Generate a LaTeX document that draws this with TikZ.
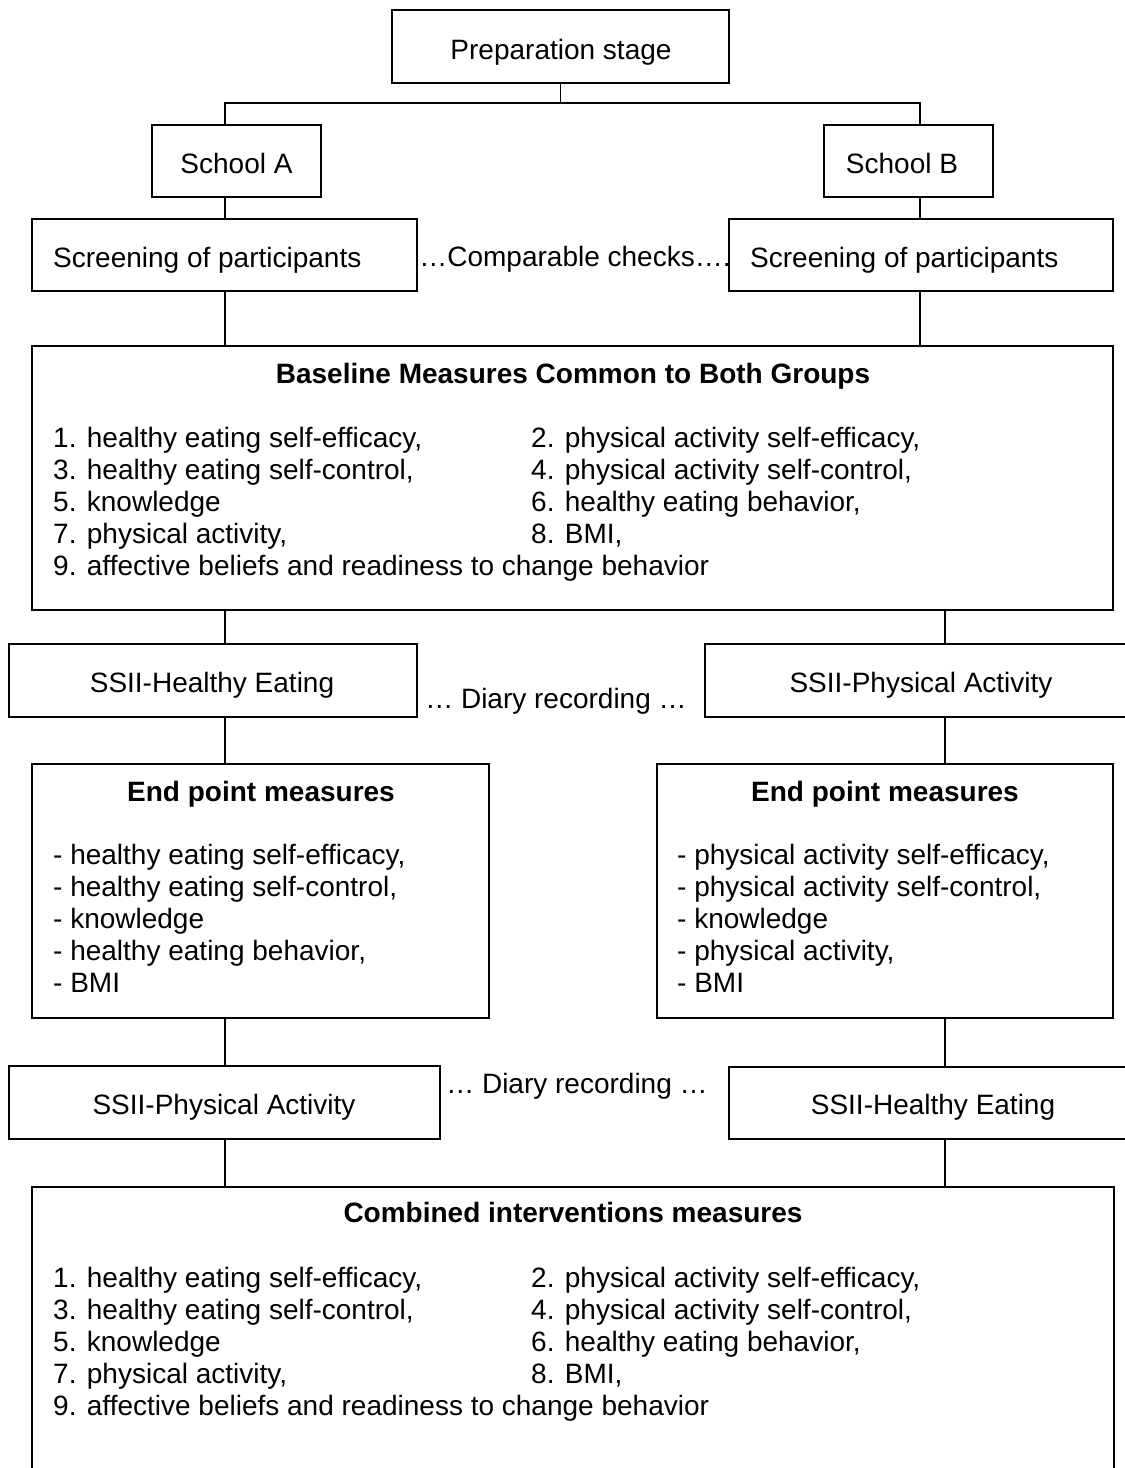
\documentclass[tikz,border=0pt]{standalone}
\usepackage{fontspec}
\setmainfont{Liberation Sans}
\begin{document}
\begin{tikzpicture}[x=1pt,y=-1pt,
  box/.style={draw, line width=1.5pt, inner sep=0pt},
  conn/.style={line width=1.3pt},
  txt/.style={inner sep=0pt, font=\fontsize{28}{32}\selectfont},
  ttl/.style={inner sep=0pt, font=\fontsize{28}{32}\selectfont\bfseries}]

\useasboundingbox (0,0) rectangle (1125,1468);

% ---- boxes ----
\node[box, minimum width=337pt, minimum height=73pt] (prep) at (560.5,46.5) {};
\node[box, minimum width=169pt, minimum height=72pt] (schA) at (236.5,161) {};
\node[box, minimum width=169pt, minimum height=72pt] (schB) at (908.5,161) {};
\node[box, minimum width=385pt, minimum height=72pt] (scrA) at (224.5,255) {};
\node[box, minimum width=384pt, minimum height=72pt] (scrB) at (921,255) {};
\node[box, minimum width=1081pt, minimum height=264pt] (base) at (572.5,478) {};
\node[box, minimum width=408pt, minimum height=73pt] (heM) at (213,680.5) {};
\node[box, minimum width=432pt, minimum height=73pt] (paM) at (921,680.5) {};
\node[box, minimum width=457pt, minimum height=254pt] (endL) at (260.5,891) {};
\node[box, minimum width=456pt, minimum height=254pt] (endR) at (885,891) {};
\node[box, minimum width=431pt, minimum height=73pt] (paB) at (224.5,1102.5) {};
\node[box, minimum width=408pt, minimum height=72pt] (heB) at (933,1103) {};
\node[box, minimum width=1082pt, minimum height=303pt] (comb) at (573,1338.5) {};

% ---- texts ----
\node[txt, anchor=base] (prep-t) at (561,59) {Preparation stage};
\node[txt, anchor=base] (schA-t) at (236.5,173) {School A};
\node[txt, anchor=base] (schB-t) at (902,173) {School B};
\node[txt, anchor=base west] (scrA-t) at (53,267) {Screening of participants};
\node[txt, anchor=base west] (scrB-t) at (750,267) {Screening of participants};
\node[txt, anchor=base] (cmp-t) at (575,266) {…Comparable checks….};

\node[ttl, anchor=base] (base-t) at (573,383) {Baseline Measures Common to Both Groups};
\foreach \s [count=\i] in {{1. healthy eating self-efficacy,},{3. healthy eating self-control,},{5. knowledge},{7. physical activity,},{9. affective beliefs and readiness to change behavior}}
  \node[txt, anchor=base west] (bl-\i) at (53,447+32*\i-32) {\s};
\foreach \s [count=\i] in {{2. physical activity self-efficacy,},{4. physical activity self-control,},{6. healthy eating behavior,},{8. BMI,}}
  \node[txt, anchor=base west] (br-\i) at (531,447+32*\i-32) {\s};

\node[txt, anchor=base] (heM-t) at (212,692) {SSII-Healthy Eating};
\node[txt, anchor=base] (paM-t) at (921,692) {SSII-Physical Activity};
\node[txt, anchor=base] (dM-t) at (556,708) {… Diary recording …};

\node[ttl, anchor=base] (endL-t) at (261,801) {End point measures};
\node[ttl, anchor=base] (endR-t) at (885,801) {End point measures};
\foreach \s [count=\i] in {{- healthy eating self-efficacy,},{- healthy eating self-control,},{- knowledge},{- healthy eating behavior,},{- BMI}}
  \node[txt, anchor=base west] (el-\i) at (53,864+32*\i-32) {\s};
\foreach \s [count=\i] in {{- physical activity self-efficacy,},{- physical activity self-control,},{- knowledge},{- physical activity,},{- BMI}}
  \node[txt, anchor=base west] (er-\i) at (677,864+32*\i-32) {\s};

\node[txt, anchor=base] (paB-t) at (224,1114) {SSII-Physical Activity};
\node[txt, anchor=base] (heB-t) at (933,1114) {SSII-Healthy Eating};
\node[txt, anchor=base] (dB-t) at (577,1093) {… Diary recording …};

\node[ttl, anchor=base] (comb-t) at (573,1222) {Combined interventions measures};
\foreach \s [count=\i] in {{1. healthy eating self-efficacy,},{3. healthy eating self-control,},{5. knowledge},{7. physical activity,},{9. affective beliefs and readiness to change behavior}}
  \node[txt, anchor=base west] (cl-\i) at (53,1287+32*\i-32) {\s};
\foreach \s [count=\i] in {{2. physical activity self-efficacy,},{4. physical activity self-control,},{6. healthy eating behavior,},{8. BMI,}}
  \node[txt, anchor=base west] (cr-\i) at (531,1287+32*\i-32) {\s};

% ---- connectors ----
\coordinate (split) at (560.5,103);
\coordinate (colL) at (225,0);
\coordinate (colR) at (920,0);
\coordinate (colS) at (945,0);

\draw[conn] (prep.south) -- (split);
\draw[conn] (schA.north -| colL) |- (split) -| (schB.north -| colR);
\draw[conn] (schA.south -| colL) -- (scrA.north -| colL);
\draw[conn] (schB.south -| colR) -- (scrB.north -| colR);
\draw[conn] (scrA.south -| colL) -- (base.north -| colL);
\draw[conn] (scrB.south -| colR) -- (base.north -| colR);
\draw[conn] (base.south -| colL) -- (heM.north -| colL);
\draw[conn] (base.south -| colS) -- (paM.north -| colS);
\draw[conn] (heM.south -| colL) -- (endL.north -| colL);
\draw[conn] (paM.south -| colS) -- (endR.north -| colS);
\draw[conn] (endL.south -| colL) -- (paB.north -| colL);
\draw[conn] (endR.south -| colS) -- (heB.north -| colS);
\draw[conn] (paB.south -| colL) -- (comb.north -| colL);
\draw[conn] (heB.south -| colS) -- (comb.north -| colS);
\end{tikzpicture}
\end{document}
